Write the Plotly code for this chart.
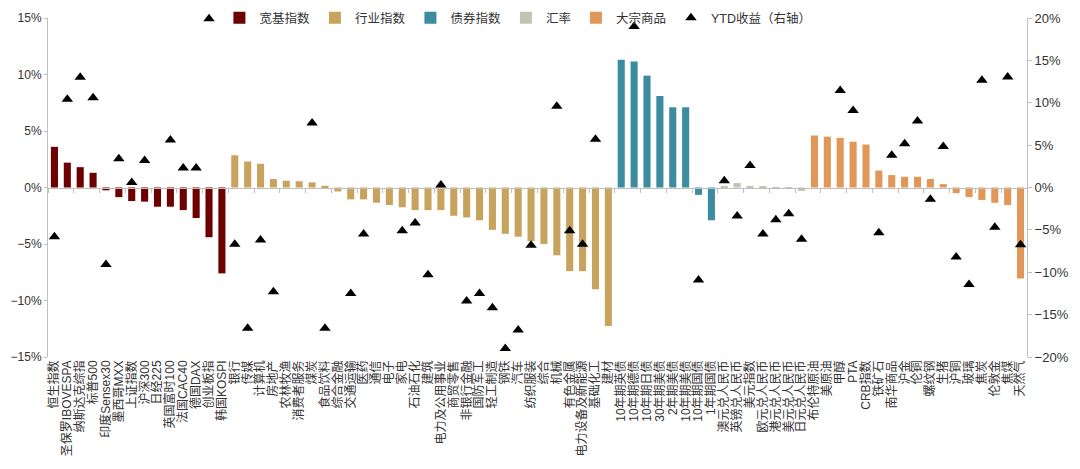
import plotly.graph_objects as go

# --- data (values in %) ---
broad_names = ['恒生指数', '圣保罗IBOVESPA', '纳斯达克综指', '标普500', '印度Sensex30', '墨西哥MXX',
               '上证指数', '沪深300', '日经225', '英国富时100', '法国CAC40', '德国DAX', '创业板指', '韩国KOSPI']
broad_chg = [3.6, 2.2, 1.8, 1.3, -0.25, -0.85, -1.2, -1.25, -1.7, -1.7, -2.0, -2.7, -4.4, -7.6]
broad_ytd = [-5.8, 10.4, 13.0, 10.6, -9.1, 3.4, 0.6, 3.2, None, 5.6, 2.3, 2.3, 19.9, None]

sector_names = ['银行', '传媒', '计算机', '房地产', '农林牧渔', '消费者服务', '煤炭', '食品饮料', '综合金融',
                '交通运输', '医药', '通信', '电子', '家电', '石油石化', '建筑', '电力及公用事业', '商贸零售',
                '非银行金融', '国防军工', '轻工制造', '钢铁', '汽车', '纺织服装', '综合', '机械', '有色金属',
                '电力设备及新能源', '基础化工', '建材']
sector_chg = [2.85, 2.3, 2.1, 0.75, 0.6, 0.55, 0.45, 0.15, -0.35, -1.05, -1.05, -1.35, -1.55, -1.75, -2.0,
              -2.0, -2.0, -2.5, -2.65, -2.9, -3.75, -4.1, -4.35, -4.75, -5.0, -6.0, -7.4, -7.4, -9.0, -12.25]
sector_ytd = [-6.7, -16.6, -6.2, -12.3, None, None, 7.6, -16.6, None, -12.5, -5.5, None, None, -5.1, -4.2,
              -10.3, 0.3, None, -13.4, -12.5, -14.2, -19.0, -16.8, -6.8, None, 9.6, -5.1, -6.7, 5.7, None]

bond_names = ['10年期英债', '10年期德债', '10年期日债', '30年期美债', '2年期美债', '10年期美债', '10年期国债', '1年期国债']
bond_chg = [11.3, 11.15, 9.9, 8.1, 7.1, 7.1, -0.65, -2.9]
bond_ytd = [None, 19.0, None, None, None, None, -10.9, None]

fx_names = ['澳元兑人民币', '英镑兑人民币', '美元指数', '欧元兑人民币', '港元兑人民币', '美元兑人民币', '日元兑人民币']
fx_chg = [0.15, 0.4, 0.15, 0.08, -0.06, -0.12, -0.3]
fx_ytd = [0.8, -3.35, 2.6, -5.5, -3.8, -3.1, -6.1]

cmd_names = ['布伦特原油', '美原油', '甲醇', 'PTA', 'CRB指数', '铁矿石', '南华商品', '沪金', '伦铜', '螺纹钢',
             '生猪', '沪铜', '玻璃', '焦炭', '伦敦金', '焦煤', '天然气']
cmd_chg = [4.6, 4.5, 4.4, 4.05, 3.8, 1.5, 1.1, 0.95, 0.95, 0.75, 0.3, -0.5, -0.85, -1.1, -1.35, -1.55, -8.05]
cmd_ytd = [None, None, 11.45, 9.1, None, -5.35, 3.8, 5.15, 7.85, -1.4, 4.85, -8.2, -11.45, 12.65, -4.7, 13.05, -6.75]

groups = [
    ('宽基指数', broad_names, broad_chg, '#6E0000'),
    ('行业指数', sector_names, sector_chg, '#C8A35E'),
    ('债券指数', bond_names, bond_chg, '#3A8C9E'),
    ('汇率', fx_names, fx_chg, '#C3C3B5'),
    ('大宗商品', cmd_names, cmd_chg, '#E09758'),
]

all_names = broad_names + sector_names + bond_names + fx_names + cmd_names
all_ytd = broad_ytd + sector_ytd + bond_ytd + fx_ytd + cmd_ytd

FONT = 'Liberation Sans, Arial, Noto Sans CJK SC'
GREY = '#BFBFBF'
TXT = '#333333'

fig = go.Figure()

for name, cats, vals, color in groups:
    fig.add_trace(go.Bar(x=cats, y=vals, name=name, marker_color=color, marker_line_width=0))

# YTD triangles on right axis (x2 sits on the zero line)
fig.add_trace(go.Scatter(
    x=all_names, y=all_ytd, name='YTD收益（右轴）', mode='markers',
    marker=dict(symbol='triangle-up', size=10, color='black'),
    xaxis='x2', yaxis='y2', cliponaxis=False
))

n = len(all_names)
# page body has an 8px margin, so the margins are shifted to compensate
fig.update_layout(
    width=1080, height=469,
    margin=dict(l=40, r=61, t=10, b=120, autoexpand=False),
    paper_bgcolor='white', plot_bgcolor='white',
    font=dict(family=FONT, size=12, color=TXT),
    barmode='relative', bargap=0.45,
    legend=dict(orientation='h', x=0.48, xanchor='center', y=1.0, yanchor='middle',
                font=dict(size=12.5, color=TXT), itemwidth=30, bgcolor='rgba(0,0,0,0)'),
    xaxis=dict(
        type='category', categoryorder='array', categoryarray=all_names,
        tickmode='array', tickvals=all_names, ticktext=all_names,
        range=[-0.5, n - 0.5], tickangle=-90, ticks='', showline=False,
        showgrid=False, tickfont=dict(size=12, color=TXT),
    ),
    xaxis2=dict(
        type='category', categoryorder='array', categoryarray=all_names,
        overlaying='x', matches='x', anchor='free', position=0.5,
        range=[-0.5, n - 0.5], showticklabels=False, showgrid=False,
        showline=True, linecolor=GREY, linewidth=1,
        ticks='outside', tickson='boundaries', ticklen=4, tickcolor=GREY,
    ),
    yaxis=dict(
        range=[-15, 15], dtick=5, ticksuffix='%', showgrid=False, zeroline=False,
        showline=True, linecolor=GREY, ticks='outside', ticklen=3, tickcolor=GREY,
        tickfont=dict(size=12, color=TXT),
    ),
    yaxis2=dict(
        range=[-20, 20], dtick=5, ticksuffix='%', overlaying='y', side='right',
        showgrid=False, zeroline=False, showline=True, linecolor=GREY,
        ticks='outside', ticklen=4, tickcolor=GREY,
        tickfont=dict(size=13, color=TXT),
    ),
)

fig.write_html('out.html')
